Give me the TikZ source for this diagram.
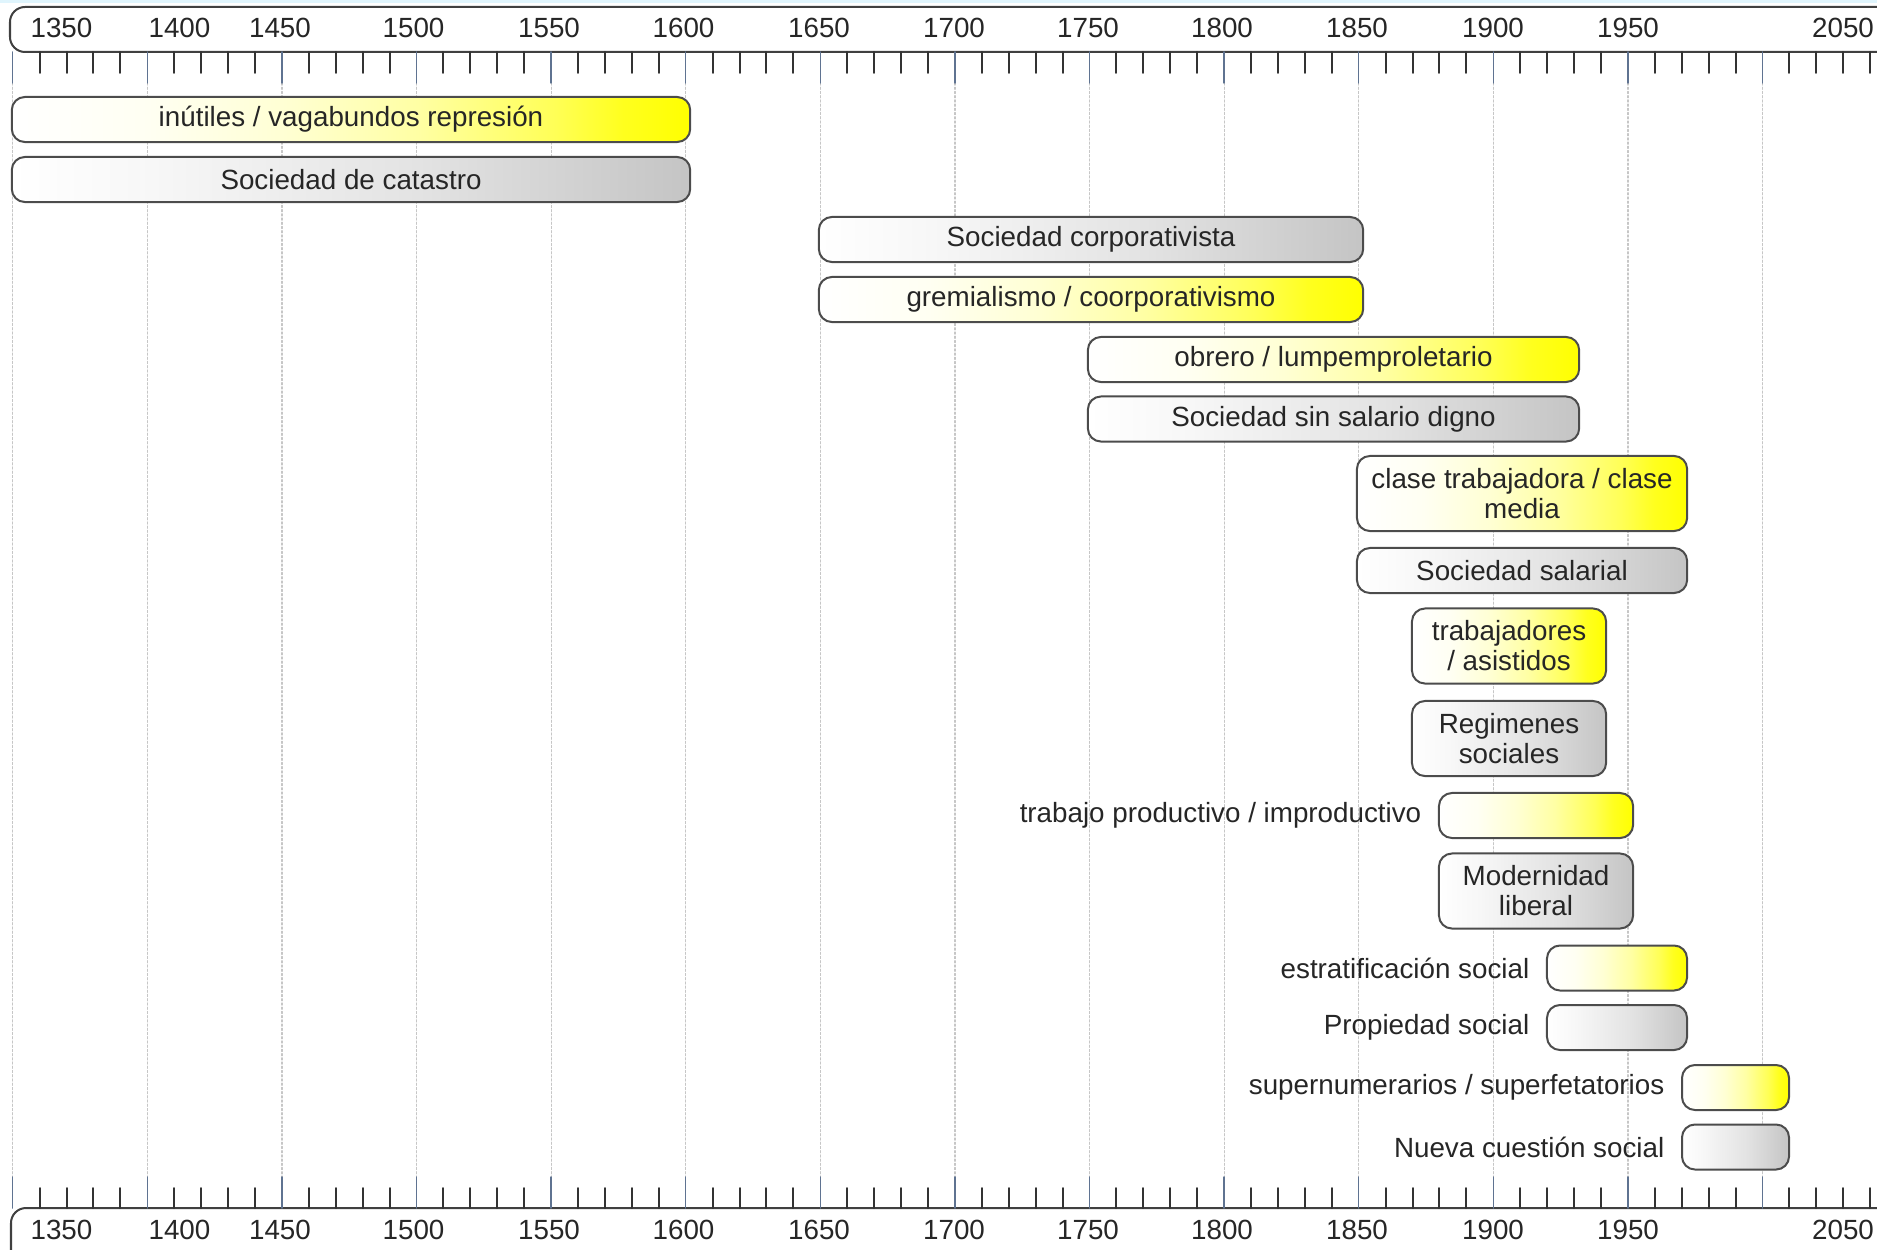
\documentclass[tikz,border=0pt]{standalone}
\usepackage{fontspec}
\setmainfont{Liberation Sans}
\usetikzlibrary{positioning}
\definecolor{tickblue}{RGB}{95,115,145}
\pgfdeclarehorizontalshading{yelgrad}{100bp}{color(0bp)=(white); color(25bp)=(white); color(35bp)=(yellow!5); color(45bp)=(yellow!17); color(55bp)=(yellow!36); color(65bp)=(yellow!66); color(70bp)=(yellow!88); color(75bp)=(yellow); color(100bp)=(yellow)}
\pgfdeclarehorizontalshading{grisgrad}{100bp}{color(0bp)=(white); color(25bp)=(white); color(35bp)=(black!3); color(45bp)=(black!7); color(55bp)=(black!11); color(65bp)=(black!17); color(75bp)=(black!23); color(100bp)=(black!23)}
\begin{document}
\begin{tikzpicture}[x=0.01cm, y=-0.01cm, font=\fontsize{7.9}{8.5}\selectfont, line join=round, line cap=round,
		bar/.style={draw=black!70, line width=0.02cm, rounded corners=0.13cm, inner sep=1pt, text=black!85, align=center, minimum height=0.45cm},
		yel/.style={bar, shading=yelgrad},
		gris/.style={bar, shading=grisgrad},
		tag/.style={inner sep=0pt, text=black!85},
		year/.style={inner sep=0pt, text=black!85}]
	\def\xo{12.7} \def\px{2.692}
	\useasboundingbox (0,0) rectangle (1877,1249);
	\clip (0,0) rectangle (1877,1249);
	\fill[cyan!12] (0,0) rectangle (1877,3);
	% grid
	\foreach \d in {0,50,...,650}
	\draw[gray!45, line width=0.012cm, dash pattern=on 0.6pt off 0.6pt] ({\xo+\d*\px},83)--({\xo+\d*\px},1177);
	% axes
	\draw[black!75, line width=0.02cm, rounded corners=0.15cm] (1900,52)--(10,52)--(10,7)--(1900,7);
	\draw[black!75, line width=0.02cm, rounded corners=0.15cm] (1900,1208)--(11,1208)--(11,1270);
	\foreach \d in {0,50,...,700}{
		\draw[tickblue, line width=0.015cm] ({\xo+\d*\px},52)--({\xo+\d*\px},83);
		\draw[tickblue, line width=0.015cm] ({\xo+\d*\px},1177)--({\xo+\d*\px},1208);
	}
	\foreach \d in {0,50,...,650}
	\foreach \m in {10,20,30,40}{
		\draw[black!80, line width=0.02cm] ({\xo+(\d+\m)*\px},52)--({\xo+(\d+\m)*\px},73);
		\draw[black!80, line width=0.02cm] ({\xo+(\d+\m)*\px},1188)--({\xo+(\d+\m)*\px},1208);
	}
	\foreach \yr/\lx in {1350/61.5,1400/179.5,1450/280,1500/413.5,1550/549,1600/683.5,1650/819,1700/954,1750/1088,1800/1222,1850/1357,1900/1493,1950/1628,2050/1843}{
		\node[year] (top\yr) at (\lx,28) {\yr};
		\node[year] (bot\yr) at (\lx,1230) {\yr};
	}
	% bars
	\node[yel, minimum width=6.78cm] (inutiles) at (351,119.5) {inútiles / vagabundos represión};
	\node[gris, minimum width=6.78cm] (catastro) at (351,179.5) {Sociedad de catastro};
	\node[gris, minimum width=5.44cm] (corporat) at (1091,239.5) {Sociedad corporativista};
	\node[yel, minimum width=5.44cm] (gremial) at (1091,299.5) {gremialismo / coorporativismo};
	\node[yel, minimum width=4.91cm] (obrero) at (1333.5,359.5) {obrero / lumpemproletario};
	\node[gris, minimum width=4.91cm] (sinsalario) at (1333.5,419) {Sociedad sin salario digno};
	\node[yel, minimum width=3.30cm, minimum height=0.75cm] (clase) at (1522,493.5) {clase trabajadora / clase\\media};
	\node[gris, minimum width=3.30cm] (salarial) at (1522,570.5) {Sociedad salarial};
	\node[yel, minimum width=1.94cm, minimum height=0.75cm] (asistidos) at (1509,646) {trabajadores\\/ asistidos};
	\node[gris, minimum width=1.94cm, minimum height=0.75cm] (regimenes) at (1509,738.5) {Regimenes\\sociales};
	\node[yel, minimum width=1.94cm] (productivo) at (1536,815.5) {};
	\node[gris, minimum width=1.94cm, minimum height=0.75cm] (modernidad) at (1536,891) {Modernidad\\liberal};
	\node[yel, minimum width=1.40cm] (estratif) at (1617,968) {};
	\node[gris, minimum width=1.40cm] (propiedad) at (1617,1027.5) {};
	\node[yel, minimum width=1.07cm] (supernum) at (1735.5,1087.5) {};
	\node[gris, minimum width=1.07cm] (nueva) at (1735.5,1147) {};
	\node[tag, left=0.16cm of productivo] (productivo-l) {trabajo productivo / improductivo};
	\node[tag, left=0.16cm of estratif] (estratif-l) {estratificación social};
	\node[tag, left=0.16cm of propiedad] (propiedad-l) {Propiedad social};
	\node[tag, left=0.16cm of supernum] (supernum-l) {supernumerarios / superfetatorios};
	\node[tag, left=0.16cm of nueva] (nueva-l) {Nueva cuestión social};
\end{tikzpicture}
\end{document}
